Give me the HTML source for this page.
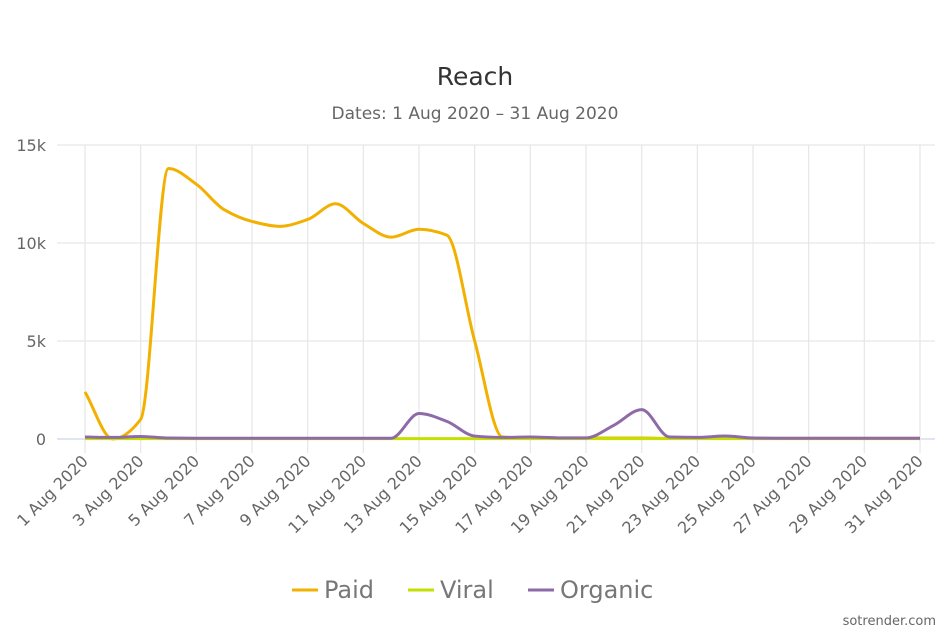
<!DOCTYPE html>
<html><head><meta charset="utf-8"><style>
html,body{margin:0;padding:0;background:#fff;width:950px;height:634px;overflow:hidden;font-family:"DejaVu Sans","Liberation Sans",sans-serif}
</style></head><body>
<svg id="s" width="950" height="634" xmlns="http://www.w3.org/2000/svg" font-family="DejaVu Sans, Liberation Sans, sans-serif">
<text x="475" y="85" text-anchor="middle" font-size="25" fill="#333">Reach</text>
<text x="475" y="119" text-anchor="middle" font-size="17" fill="#666">Dates: 1 Aug 2020 – 31 Aug 2020</text>
<g id="grid"></g>
<g id="series"></g>
<g font-size="24" fill="#777">
<line x1="292" y1="590" x2="318" y2="590" stroke="#f2b000" stroke-width="3"/>
<text x="324" y="598">Paid</text>
<line x1="408" y1="590" x2="434" y2="590" stroke="#c3e000" stroke-width="3"/>
<text x="440" y="598">Viral</text>
<line x1="528" y1="590" x2="554" y2="590" stroke="#8e6aa8" stroke-width="3"/>
<text x="560" y="598">Organic</text>
</g>
<text x="936" y="625" text-anchor="end" font-size="13" fill="#666">sotrender.com</text>
</svg>
<script>
var x0=85,dx=835/30,y0=439,sc=294/15000;
function X(i){return x0+dx*i}function Y(v){return y0-v*sc}
var g=document.getElementById('grid'),h='';
[0,5000,10000,15000].forEach(function(v){var y=Y(v);
h+='<line x1="57" y1="'+y+'" x2="935" y2="'+y+'" stroke="'+(v==0?'#ccd6eb':'#e6e6e6')+'" stroke-width="1.2"/>';
h+='<text x="46" y="'+(y+6)+'" text-anchor="end" font-size="16" fill="#666">'+(v?v/1000+'k':'0')+'</text>';});
for(var i=0;i<=30;i+=2){var x=X(i);
h+='<line x1="'+x+'" y1="145" x2="'+x+'" y2="453" stroke="#e6e6e6" stroke-width="1.2"/>';
h+='<text transform="translate('+(x+4)+',462) rotate(-45)" text-anchor="end" font-size="16" fill="#666">'+(i+1)+' Aug 2020</text>';}
g.innerHTML=h;
function path(vals){var n=vals.length,p=vals.map(function(v,i){return[X(i),Y(v)]});
var d=[],m=[];for(var i=0;i<n-1;i++)d.push((p[i+1][1]-p[i][1])/dx);
m[0]=d[0];m[n-1]=d[n-2];
for(var i=1;i<n-1;i++){if(d[i-1]*d[i]<=0)m[i]=0;else m[i]=2/(1/d[i-1]+1/d[i]);}
var s='M'+p[0][0]+','+p[0][1];
for(var i=0;i<n-1;i++){var h3=dx/3;
s+=' C'+(p[i][0]+h3)+','+(p[i][1]+m[i]*h3)+' '+(p[i+1][0]-h3)+','+(p[i+1][1]-m[i+1]*h3)+' '+p[i+1][0]+','+p[i+1][1];}
return s;}
var paid=[2400,0,1000,13800,13000,11700,11100,10850,11200,12000,11000,10300,10700,10400,5000,100,50,50,50,50,50,30,30,30,30,30,30,30,30,30,30];
var viral=[];for(var i=0;i<31;i++)viral.push(20);
var org=[100,80,130,50,40,40,40,40,40,40,40,40,1300,900,150,80,100,60,60,700,1500,100,80,150,50,40,40,40,40,40,40];
var s='';
s+='<path d="'+path(paid)+'" fill="none" stroke="#f2b000" stroke-width="3"/>';
s+='<path d="'+path(viral)+'" fill="none" stroke="#c3e000" stroke-width="3"/>';
s+='<path d="'+path(org)+'" fill="none" stroke="#8e6aa8" stroke-width="3"/>';
document.getElementById('series').innerHTML=s;
</script>
</body></html>
